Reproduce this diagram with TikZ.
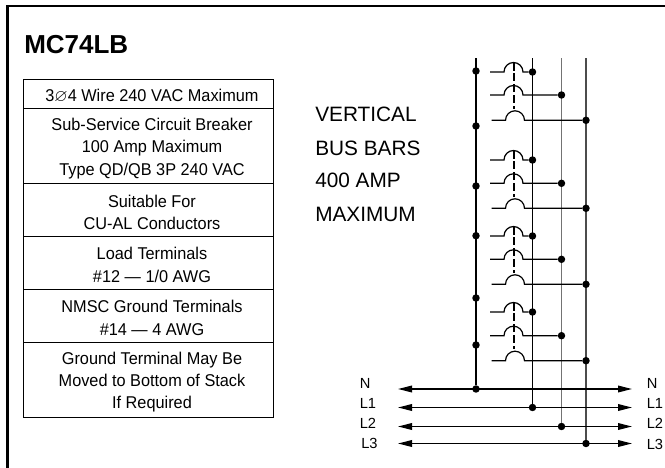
\documentclass[tikz,border=0pt]{standalone}
\usepackage{amssymb}
\usepackage{fontspec}
\setmainfont{Liberation Sans}
\newfontfamily\narrowfont[FakeStretch=0.955]{Liberation Sans}
\usetikzlibrary{arrows.meta}

\tikzset{
  wire/.style={line width=0.9pt},
  busdot/.style={circle, fill=black, inner sep=0pt, minimum size=5.6pt},
  linetip/.style={{Triangle[length=10.5pt,width=5pt]}-{Triangle[length=10.5pt,width=5pt]}, line width=1pt},
  rowtext/.style={align=center, inner sep=0pt, font=\narrowfont\fontsize{12.8}{16.8}\selectfont},
  rowline/.style={line width=0.75pt},
  busname/.style={font=\fontsize{11}{13}\selectfont, inner sep=0pt},
  bartext/.style={anchor=base west, font=\fontsize{15.6}{18}\selectfont, inner sep=0pt}
}
\newcommand{\breaker}[4]{
  \coordinate (#1s) at (#3,#2);
  \draw[wire] (#1s) -- (#3+14,#2) arc (180:360:9.5) -- (#4);
}

\begin{document}
\begin{tikzpicture}[x=0.75pt,y=-0.75pt]

  \useasboundingbox (0,0) rectangle (665,468);

  \coordinate (frameb) at (7.3,468);
  \coordinate (framec) at (7.3,6);
  \coordinate (framer) at (665,6);
  \draw[line width=2pt] (frameb) -- (framec) -- (framer);

  \node[anchor=base west, inner sep=0pt, font=\bfseries\fontsize{19.5}{22}\selectfont] (title) at (24,53) {MC74LB};

  % table
  \draw[rowline] (23.5,79) rectangle (273,108);
  \draw[rowline] (23.5,108) rectangle (273,183.5);
  \draw[rowline] (23.5,183.5) rectangle (273,236.5);
  \draw[rowline] (23.5,236.5) rectangle (273,289.5);
  \draw[rowline] (23.5,289.5) rectangle (273,342);
  \draw[rowline] (23.5,342) rectangle (273,417.5);

  \node[rowtext] (row1) at (152,96) {3$\varnothing$4 Wire 240 VAC Maximum};
  \node[rowtext] (row2) at (152,148.5) {Sub-Service Circuit Breaker\\100 Amp Maximum\\Type QD/QB 3P 240 VAC};
  \node[rowtext] (row3) at (152,212.5) {Suitable For\\CU-AL Conductors};
  \node[rowtext] (row4) at (152,265) {Load Terminals\\\#12 — 1/0 AWG};
  \node[rowtext] (row5) at (152,318) {NMSC Ground Terminals\\\#14 — 4 AWG};
  \node[rowtext] (row6) at (152,382) {Ground Terminal May Be\\Moved to Bottom of Stack\\If Required};

  \node[bartext] (bar1) at (315,121.7) {VERTICAL};
  \node[bartext] (bar2) at (315,155) {BUS BARS};
  \node[bartext] (bar3) at (315,187.3) {400 AMP};
  \node[bartext] (bar4) at (315,221) {MAXIMUM};

  % bus bars
  \coordinate (ntop) at (476,58);
  \coordinate (aatop) at (532.5,58);
  \coordinate (bbtop) at (561.5,58);
  \coordinate (cctop) at (586,58);

  \node[busdot] (nline) at (476,389) {};
  \node[busdot] (aline) at (532.5,407.5) {};
  \node[busdot] (bline) at (561.5,426.5) {};
  \node[busdot] (cline) at (586,443.5) {};

  \draw[wire] (ntop) -- (nline);
  \draw[wire] (aatop) -- (aline);
  \draw[line width=1.4pt, black!55] (bbtop) -- (bline);
  \draw[line width=1.7pt, black!70] (cctop) -- (cline);

  \node[busdot] (n1) at (476,71) {};
  \node[busdot] (n2) at (476,126) {};
  \node[busdot] (n3) at (476,186) {};
  \node[busdot] (n4) at (476,235.7) {};
  \node[busdot] (n5) at (476,298) {};
  \node[busdot] (n6) at (476,345) {};

  % lines out
  \coordinate (nl) at (398,389);
  \coordinate (nr) at (632,389);
  \coordinate (al) at (398,407.5);
  \coordinate (ar) at (632,407.5);
  \coordinate (bl) at (398,426.5);
  \coordinate (br) at (632,426.5);
  \coordinate (cl) at (398,443.5);
  \coordinate (cr) at (632,443.5);
  \draw[linetip] (nl) -- (nr);
  \draw[linetip] (al) -- (ar);
  \draw[linetip] (bl) -- (br);
  \draw[linetip] (cl) -- (cr);

  \node[busname, anchor=west] (nname) at (646.5,383) {N};
  \node[busname, anchor=west] (aname) at (646.5,403) {L1};
  \node[busname, anchor=west] (bname) at (646.5,423.5) {L2};
  \node[busname, anchor=west] (cname) at (646.5,444) {L3};

  \node[busname, anchor=west] (nnamel) at (359.5,383) {N};
  \node[busname, anchor=west] (anamel) at (359.5,403) {L1};
  \node[busname, anchor=west] (bnamel) at (359.5,423) {L2};
  \node[busname, anchor=west] (cnamel) at (361,443) {L3};

  % breakers
  \node[busdot] (a1) at (532.5,72) {};
  \node[busdot] (b1) at (561.5,95) {};
  \node[busdot] (c1) at (586,120.3) {};
  \node[busdot] (a2) at (532.5,160) {};
  \node[busdot] (b2) at (561.5,183.3) {};
  \node[busdot] (c2) at (586,208.3) {};
  \node[busdot] (a3) at (532.5,236) {};
  \node[busdot] (b3) at (561.5,259.3) {};
  \node[busdot] (c3) at (586,284.3) {};
  \node[busdot] (a4) at (532.5,312) {};
  \node[busdot] (b4) at (561.5,335.7) {};
  \node[busdot] (c4) at (586,360.7) {};

  \breaker{p1}{72}{490}{a1}
  \breaker{q1}{95}{490}{b1}
  \breaker{r1}{120.3}{491.5}{c1}
  \breaker{p2}{160}{490}{a2}
  \breaker{q2}{183.3}{490}{b2}
  \breaker{r2}{208.3}{491.5}{c2}
  \breaker{p3}{236}{490}{a3}
  \breaker{q3}{259.3}{490}{b3}
  \breaker{r3}{284.3}{491.5}{c3}
  \breaker{p4}{312}{490}{a4}
  \breaker{q4}{335.7}{490}{b4}
  \breaker{r4}{360.7}{491.5}{c4}

  % ties
  \draw[line width=1.2pt, dash pattern=on 6pt off 2.2pt] (514,62.5) -- (514,109);
  \draw[line width=1.2pt, dash pattern=on 6pt off 2.2pt] (514,150.5) -- (514,197);
  \draw[line width=1.2pt, dash pattern=on 6pt off 2.2pt] (514,226.5) -- (514,273);
  \draw[line width=1.2pt, dash pattern=on 6pt off 2.2pt] (514,302.5) -- (514,349);

\end{tikzpicture}
\end{document}
